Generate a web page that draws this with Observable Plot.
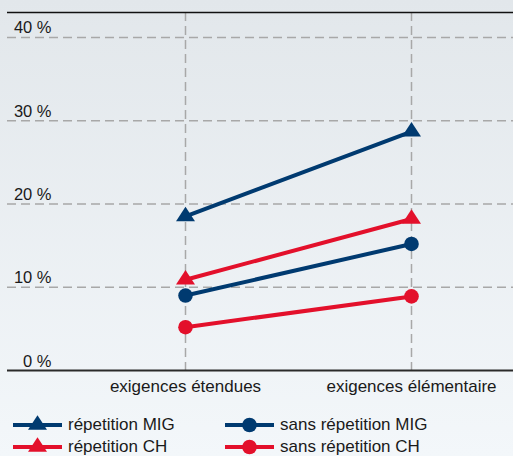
<!DOCTYPE html>
<html>
<head>
<meta charset="utf-8">
<script src="https://cdn.jsdelivr.net/npm/d3@7"></script>
<script src="https://cdn.jsdelivr.net/npm/@observablehq/plot@0.6"></script>
<style>
  html, body { margin: 0; padding: 0; }
  body {
    width: 513px; height: 456px; overflow: hidden;
    background: linear-gradient(to bottom, #e2e7eb 0%, #f3f7fa 100%);
    font-family: "Liberation Sans", Arial, sans-serif;
    color: #1a1a1a;
  }
  #chart svg { display: block; background: transparent; }
  #legend { position: relative; height: 56px; font-size: 17px; }
  .item { position: absolute; display: flex; align-items: center; height: 16px; }
  .item span { line-height: 16px; }
  .item svg { display: block; margin-right: 6px; }
</style>
</head>
<body>
<div id="chart"></div>
<div id="legend"></div>
<script>
// ---- data ----
const categories = ["exigences étendues", "exigences élémentaire"];
const seriesNames = ["répetition MIG", "répetition CH", "sans répetition MIG", "sans répetition CH"];
const repetitionMIG = [18.5, 28.7];
const repetitionCH = [10.9, 18.2];
const sansRepetitionMIG = [9.0, 15.2];
const sansRepetitionCH = [5.2, 8.9];
const yTicks = [0, 10, 20, 30, 40];
const yMax = 43;

const navy = "#003a70";
const red = "#e3102b";
const seriesColors = [navy, red, navy, red];

// wide, flat triangle marker (centroid at origin); size is ignored
const wideTriangle = {
  draw(context) {
    const w = 19, h = 14.5;
    context.moveTo(0, -h * 2 / 3);
    context.lineTo(w / 2, h / 3);
    context.lineTo(-w / 2, h / 3);
    context.closePath();
  }
};
const seriesSymbols = [wideTriangle, wideTriangle, d3.symbolCircle, d3.symbolCircle];
const seriesValues = [repetitionMIG, repetitionCH, sansRepetitionMIG, sansRepetitionCH];

const rows = [];
seriesNames.forEach((s, i) => categories.forEach((c, j) => rows.push({series: s, cat: c, value: seriesValues[i][j]})));

const font = "Liberation Sans, Arial, sans-serif";

const chart = Plot.plot({
  width: 513,
  height: 400,
  marginLeft: 7,
  marginRight: 0,
  marginTop: 12,
  marginBottom: 30,
  style: {background: "transparent", fontFamily: font, fontSize: "17px", color: "#1a1a1a"},
  x: {type: "point", domain: categories, range: [185, 411], padding: 0, axis: null},
  y: {domain: [0, yMax], axis: null},
  color: {domain: seriesNames, range: seriesColors},
  symbol: {domain: seriesNames, range: seriesSymbols},
  marks: [
    Plot.ruleY(yTicks.filter(d => d > 0), {stroke: "#a8a8a8", strokeWidth: 1.5, strokeDasharray: "9,5"}),
    Plot.ruleX(categories, {x: d => d, stroke: "#a8a8a8", strokeWidth: 1.5, strokeDasharray: "9,5"}),
    Plot.ruleY([yMax], {stroke: "#111", strokeWidth: 1.5}),
    Plot.ruleY([0], {stroke: "#2a2a2a", strokeWidth: 2}),
    Plot.text(yTicks, {y: d => d, text: d => `${d} %`, frameAnchor: "left", dx: 44, textAnchor: "end", lineAnchor: "bottom", dy: -4, fill: "#1a1a1a", fontSize: 16.5}),
    Plot.axisX({tickSize: 0, tickPadding: 9, fontSize: 17, color: "#1a1a1a", label: null}),
    Plot.line(rows, {x: "cat", y: "value", z: "series", stroke: "series", strokeWidth: 4}),
    Plot.dot(rows, {x: "cat", y: "value", fill: "series", symbol: "series", r: 7.3, stroke: "none"})
  ]
});
document.getElementById("chart").appendChild(chart);

// ---- legend ----
const legend = document.getElementById("legend");
const positions = [[13, 25], [13, 47], [225, 25], [225, 47]];
seriesNames.forEach((s, i) => {
  const div = document.createElement("div");
  div.className = "item";
  div.style.left = positions[i][0] + "px";
  div.style.top = (positions[i][1] - 8) + "px";
  const path = d3.symbol(seriesSymbols[i], Math.PI * 7.3 * 7.3)();
  div.innerHTML = `<svg width="49" height="16" style="overflow:visible"><line x1="0" x2="49" y1="8" y2="8" stroke="${seriesColors[i]}" stroke-width="4"/><path transform="translate(24.5,8)" d="${path}" fill="${seriesColors[i]}"/></svg><span>${s}</span>`;
  legend.appendChild(div);
});
</script>
</body>
</html>
